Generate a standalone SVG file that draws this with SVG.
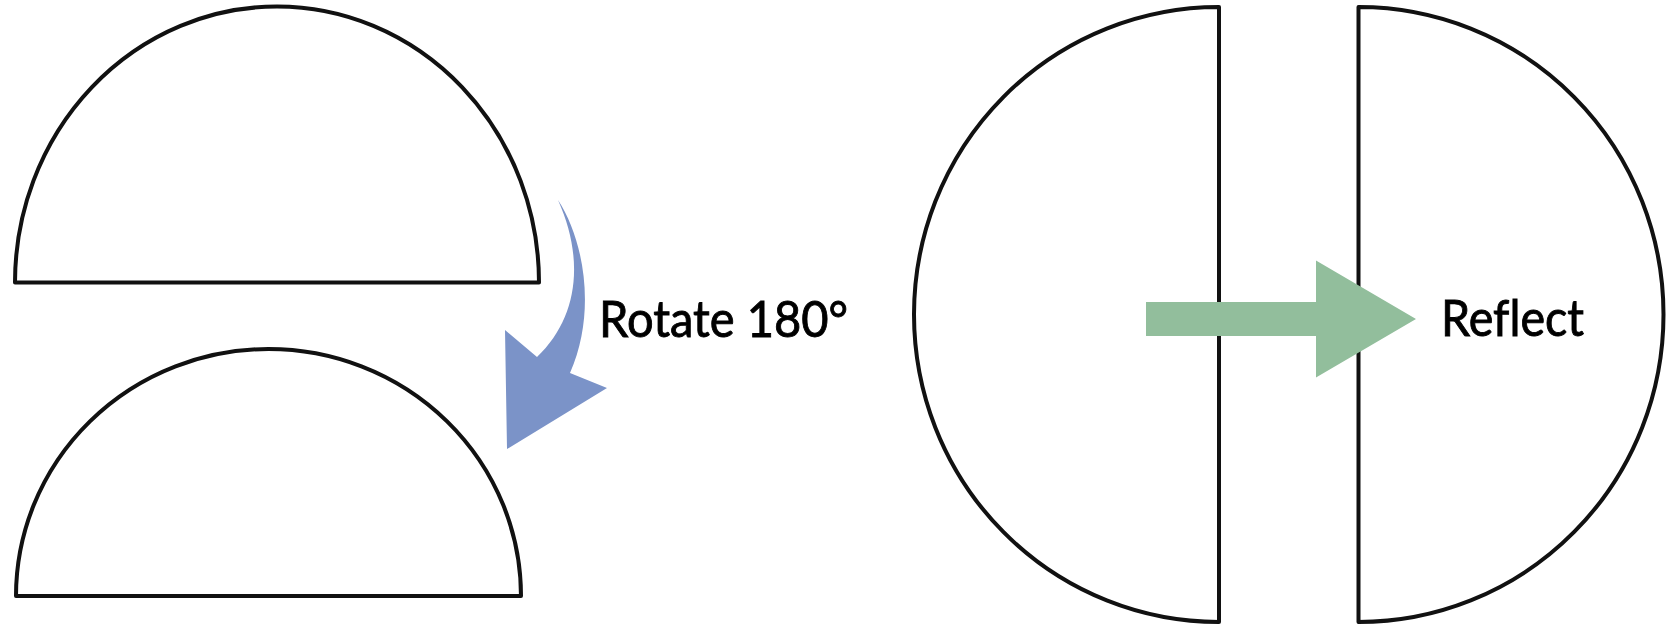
<svg xmlns="http://www.w3.org/2000/svg" width="1667" height="624" viewBox="0 0 1667 624">
<style>
.shape{fill:#fff;stroke:#111;stroke-width:4;stroke-linejoin:round}
.lbl{font-family:Lato,"Open Sans","Liberation Sans",sans-serif;font-size:50px;fill:#000;stroke:#000;stroke-width:0.9;font-variant-ligatures:none}
</style>
<rect width="1667" height="624" fill="#fff"/>
<g id="top-half">
<path class="shape" d="M15,282.5 A262,276 0 0 1 539,282.5 Z"/>
</g>
<g id="bottom-half">
<path class="shape" d="M16,596 A252.5,247 0 0 1 521,596 Z"/>
</g>
<g id="left-half-disk">
<path class="shape" d="M1219,7 A305,307.5 0 0 0 1219,622 Z"/>
</g>
<g id="right-half-disk">
<path class="shape" d="M1358.5,7 A305,307.5 0 0 1 1358.5,622 Z"/>
</g>
<g id="connectors">
<path id="rotate-arrow" fill="#7b93c8" d="M558,200 C584,240 597,312 570,373 L607,388 L507,449 L505,330 L537,357 C578,318 585,260 558,200 Z"/>
<path id="reflect-arrow" fill="#92be9c" d="M1146,302 L1316,302 L1316,260.5 L1416,319 L1316,377.5 L1316,336 L1146,336 Z"/>
</g>
<g id="labels">
<text class="lbl" x="599" y="337" textLength="249" lengthAdjust="spacingAndGlyphs">Rotate 180°</text>
<text class="lbl" x="1441" y="336" textLength="143" lengthAdjust="spacingAndGlyphs">Reflect</text>
</g>
</svg>
